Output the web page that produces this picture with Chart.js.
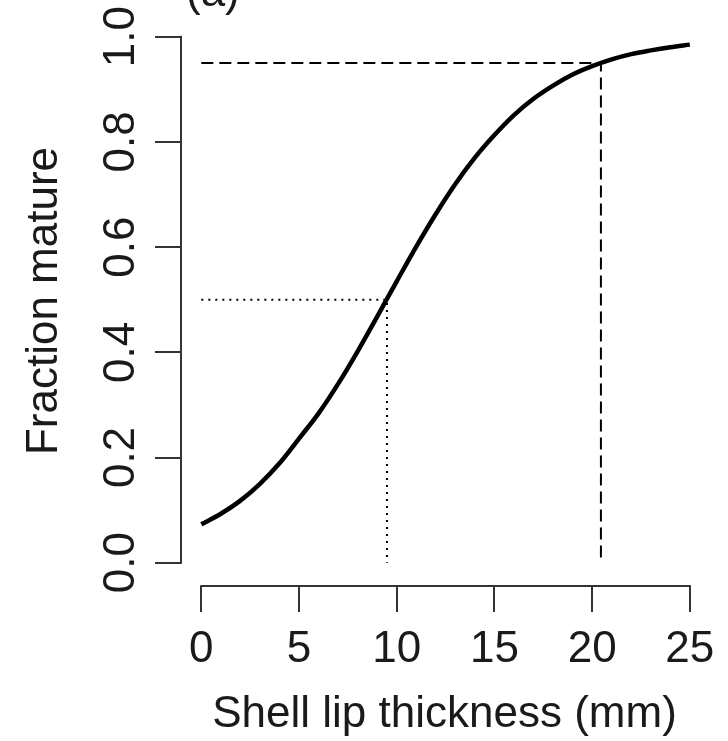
<!DOCTYPE html>
<html>
<head>
<meta charset="utf-8">
<script src="https://cdn.jsdelivr.net/npm/chart.js@4/dist/chart.umd.min.js"></script>
<style>
  html, body { margin: 0; padding: 0; background: #fff; }
  #wrap { width: 728px; height: 741px; }
</style>
</head>
<body>
<div id="wrap"><canvas id="chart" width="728" height="741"></canvas></div>
<script>
// values
const lipThickness = [0, 1, 2, 3, 4, 5, 6, 7, 8, 9, 10, 11, 12, 13, 14, 15, 16, 17, 18, 19, 20, 21, 22, 23, 24, 25];
const fractionMature = [0.073, 0.093, 0.118, 0.150, 0.189, 0.236, 0.284, 0.340, 0.402, 0.468, 0.535, 0.601, 0.663, 0.720, 0.770, 0.813, 0.851, 0.882, 0.907, 0.928, 0.944, 0.957, 0.967, 0.974, 0.980, 0.985];

// reference levels: 50% and 95% maturity
const l50 = [9.5, 0.5];
const l95 = [20.45, 0.95];

const xTicks = [0, 5, 10, 15, 20, 25];
const yTicks = [0, 0.2, 0.4, 0.6, 0.8, 1.0];

const fontFamily = '"Liberation Sans", Arial, Helvetica, sans-serif';
const axisColor = '#333';
const textColor = '#1a1a1a';

const curve = lipThickness.map((x, i) => ({ x: x, y: fractionMature[i] }));
const refLine = (r) => [{ x: 0, y: r[1] }, { x: r[0], y: r[1] }, { x: r[0], y: 0 }];

// R-style detached axis lines, only spanning the tick range
const axisLines = {
  id: 'axisLines',
  afterDraw(chart) {
    const ctx = chart.ctx;
    const xs = chart.scales.x;
    const ys = chart.scales.y;
    const area = chart.chartArea;
    ctx.save();
    ctx.strokeStyle = axisColor;
    ctx.lineWidth = 2;
    ctx.beginPath();
    ctx.moveTo(xs.getPixelForValue(xTicks[0]) - 1, area.bottom);
    ctx.lineTo(xs.getPixelForValue(xTicks[xTicks.length - 1]) + 1, area.bottom);
    ctx.moveTo(area.left, ys.getPixelForValue(yTicks[0]) + 1);
    ctx.lineTo(area.left, ys.getPixelForValue(yTicks[yTicks.length - 1]) - 1);
    ctx.stroke();
    // panel label
    ctx.fillStyle = textColor;
    ctx.font = '44px ' + fontFamily;
    ctx.textAlign = 'left';
    ctx.textBaseline = 'alphabetic';
    ctx.fillText('(a)', 186, 6);
    ctx.restore();
  }
};

// keep the plot box fixed, ignore label overflow padding
const noPad = (s) => { s.paddingTop = 0; s.paddingBottom = 0; s.paddingLeft = 0; s.paddingRight = 0; };

new Chart(document.getElementById('chart'), {
  type: 'scatter',
  data: {
    datasets: [
      {
        label: 'Fraction mature',
        data: curve,
        showLine: true,
        borderColor: '#000',
        borderWidth: 4.5,
        pointRadius: 0,
        cubicInterpolationMode: 'monotone',
      },
      {
        label: 'L50',
        data: refLine(l50),
        showLine: true,
        borderColor: '#000',
        borderWidth: 2,
        borderDash: [2, 5],
        pointRadius: 0,
      },
      {
        label: 'L95',
        data: refLine(l95),
        showLine: true,
        borderColor: '#000',
        borderWidth: 2,
        borderDash: [12, 6],
        pointRadius: 0,
      },
    ],
  },
  options: {
    responsive: false,
    animation: false,
    devicePixelRatio: 1,
    layout: { padding: { top: 16, right: 20, left: 0, bottom: 0 } },
    plugins: {
      legend: { display: false },
      tooltip: { enabled: false },
    },
    scales: {
      x: {
        type: 'linear',
        min: -1.04,
        max: 25.93,
        afterBuildTicks: (s) => { s.ticks = xTicks.map(v => ({ value: v })); },
        afterFit: (s) => { s.height = 155; noPad(s); },
        grid: { display: true, drawOnChartArea: false, drawTicks: true, tickLength: 26, color: axisColor, lineWidth: 2 },
        border: { display: false },
        ticks: {
          padding: 11,
          color: textColor,
          maxRotation: 0,
          font: { family: fontFamily, size: 44, lineHeight: 1.2 },
          callback: (v) => String(v),
        },
        title: {
          display: true,
          text: 'Shell lip thickness (mm)',
          color: textColor,
          padding: { top: 0, bottom: 0 },
          font: { family: fontFamily, size: 44, lineHeight: 1.2 },
        },
      },
      y: {
        type: 'linear',
        min: -0.0443,
        max: 1.0394,
        afterBuildTicks: (s) => { s.ticks = yTicks.map(v => ({ value: v })); },
        afterFit: (s) => { s.width = 181; noPad(s); },
        grid: { display: true, drawOnChartArea: false, drawTicks: true, tickLength: 26, color: axisColor, lineWidth: 2 },
        border: { display: false },
        ticks: {
          padding: 3,
          minRotation: 90,
          maxRotation: 90,
          crossAlign: 'center',
          color: textColor,
          font: { family: fontFamily, size: 44, lineHeight: 1.2 },
          callback: (v) => Number(v).toFixed(1),
        },
        title: {
          display: true,
          text: 'Fraction mature',
          color: textColor,
          padding: { top: 18, bottom: 0 },
          font: { family: fontFamily, size: 44, lineHeight: 1.2 },
        },
      },
    },
  },
  plugins: [axisLines],
});
</script>
</body>
</html>
